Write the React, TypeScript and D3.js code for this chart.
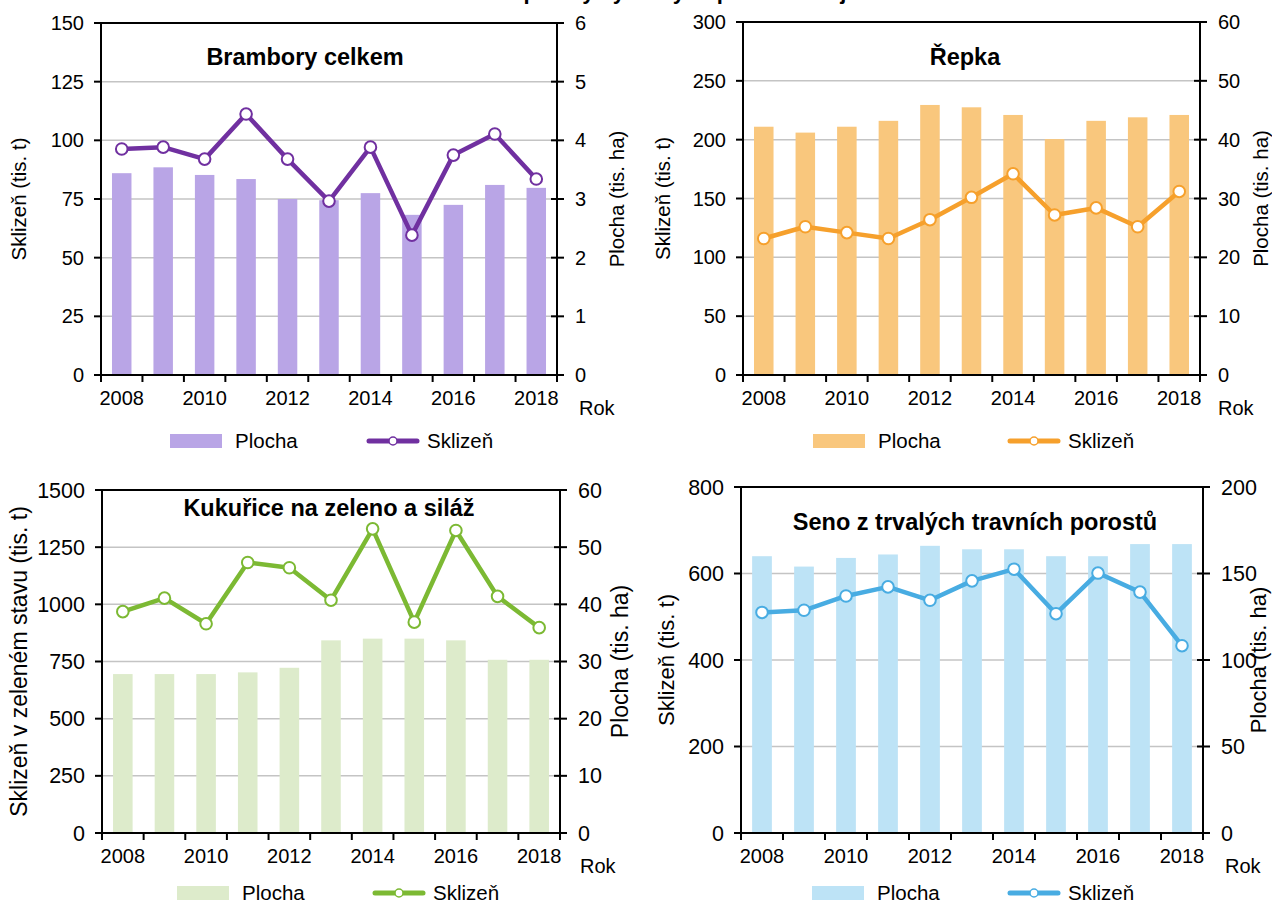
import React from "react";
import * as d3 from "d3";

const years = ["2008", "2009", "2010", "2011", "2012", "2013", "2014", "2015", "2016", "2017", "2018"];
const yearLabels = ["2008", "2010", "2012", "2014", "2016", "2018"];

// Plocha (tis. ha) - right axis, Sklizeň (tis. t) - left axis
const bramboryPlocha = [3.44, 3.54, 3.41, 3.34, 3.0, 2.98, 3.1, 2.73, 2.9, 3.24, 3.19];
const bramborySklizen = [96.3, 97.1, 92, 111.2, 92, 74.1, 97.1, 59.6, 93.7, 102.7, 83.5];

const repkaPlocha = [42.2, 41.2, 42.2, 43.2, 45.9, 45.5, 44.2, 40.1, 43.2, 43.8, 44.2];
const repkaSklizen = [116, 126, 121, 116, 132, 151, 171, 136, 142, 126, 156];

const kukuricePlocha = [27.8, 27.8, 27.8, 28.1, 28.9, 33.7, 34.0, 34.0, 33.7, 30.3, 30.3];
const kukuriceSklizen = [968, 1027, 915, 1183, 1160, 1018, 1330, 922, 1323, 1035, 898];

const senoPlocha = [160, 154, 159, 161, 166, 164, 164, 160, 160, 167, 167];
const senoSklizen = [510, 515, 548, 569, 538, 583, 610, 507, 601, 557, 433];

const FONT = "'Liberation Sans', Arial, sans-serif";

interface PanelCfg {
  title: string;
  titleX: number;
  titleY: number;
  left: number;
  right: number;
  top: number;
  bottom: number;
  leftMax: number;
  leftStep: number;
  rightMax: number;
  rightStep: number;
  leftTitle: string;
  leftTitleX: number;
  rightTitleX: number;
  plocha: number[];
  sklizen: number[];
  barColor: string;
  lineColor: string;
  rokX: number;
  legendY: number;
  swatchX: number;
  lineX: number;
  tickFs: number;
  axisFs: number;
}

const panels: PanelCfg[] = [
  {
    title: "Brambory celkem", titleX: 305, titleY: 57,
    left: 101, right: 557, top: 23, bottom: 375,
    leftMax: 150, leftStep: 25, rightMax: 6, rightStep: 1,
    leftTitle: "Sklizeň (tis. t)", leftTitleX: 19, rightTitleX: 617,
    plocha: bramboryPlocha, sklizen: bramborySklizen,
    barColor: "#b9a5e6", lineColor: "#7030a0",
    rokX: 579, legendY: 441, swatchX: 170, lineX: 369,
    tickFs: 20, axisFs: 20.5,
  },
  {
    title: "Řepka", titleX: 965, titleY: 57,
    left: 743, right: 1200, top: 22, bottom: 375,
    leftMax: 300, leftStep: 50, rightMax: 60, rightStep: 10,
    leftTitle: "Sklizeň (tis. t)", leftTitleX: 663, rightTitleX: 1261,
    plocha: repkaPlocha, sklizen: repkaSklizen,
    barColor: "#f9c77d", lineColor: "#f6a02c",
    rokX: 1218, legendY: 441, swatchX: 813, lineX: 1010,
    tickFs: 20, axisFs: 20.5,
  },
  {
    title: "Kukuřice na zeleno a siláž", titleX: 329, titleY: 508,
    left: 102, right: 560, top: 490, bottom: 833,
    leftMax: 1500, leftStep: 250, rightMax: 60, rightStep: 10,
    leftTitle: "Sklizeň v zeleném stavu (tis. t)", leftTitleX: 19, rightTitleX: 620,
    plocha: kukuricePlocha, sklizen: kukuriceSklizen,
    barColor: "#ddebcb", lineColor: "#7cb933",
    rokX: 580, legendY: 893, swatchX: 177, lineX: 375,
    tickFs: 21.5, axisFs: 23,
  },
  {
    title: "Seno z trvalých travních porostů", titleX: 975, titleY: 522,
    left: 741, right: 1203, top: 487, bottom: 833,
    leftMax: 800, leftStep: 200, rightMax: 200, rightStep: 50,
    leftTitle: "Sklizeň (tis. t)", leftTitleX: 666, rightTitleX: 1258,
    plocha: senoPlocha, sklizen: senoSklizen,
    barColor: "#bde3f6", lineColor: "#48ace2",
    rokX: 1225, legendY: 893, swatchX: 812, lineX: 1010,
    tickFs: 21.5, axisFs: 22,
  },
];

function Panel({ c }: { c: PanelCfg }) {
  const x = d3.scaleBand().domain(years).range([c.left, c.right]);
  const yL = d3.scaleLinear().domain([0, c.leftMax]).range([c.bottom, c.top]);
  const yR = d3.scaleLinear().domain([0, c.rightMax]).range([c.bottom, c.top]);
  const leftTicks = d3.range(0, c.leftMax + 0.001, c.leftStep);
  const rightTicks = d3.range(0, c.rightMax + 0.001, c.rightStep);
  const bw = x.bandwidth();
  const barW = bw * 0.47;
  const cx = (i: number) => (x(years[i]) as number) + bw / 2;
  const line = d3.line<number>().x((d, i) => cx(i)).y((d) => yL(d));
  const midY = (c.top + c.bottom) / 2;

  return (
    <g>
      {/* grid */}
      {leftTicks.filter((t) => t > 0 && t < c.leftMax).map((t) => (
        <line key={"g" + t} x1={c.left} x2={c.right} y1={yL(t)} y2={yL(t)} stroke="#c4c4c4" strokeWidth={1.5} />
      ))}
      {/* bars */}
      {c.plocha.map((v, i) => (
        <rect key={"b" + i} x={cx(i) - barW / 2} y={yR(v)} width={barW} height={c.bottom - yR(v)} fill={c.barColor} />
      ))}
      {/* frame */}
      <line x1={c.left} x2={c.right} y1={c.top} y2={c.top} stroke="#000" strokeWidth={2} />
      <line x1={c.left} x2={c.left} y1={c.top} y2={c.bottom} stroke="#000" strokeWidth={2} />
      <line x1={c.right} x2={c.right} y1={c.top} y2={c.bottom} stroke="#000" strokeWidth={2} />
      <line x1={c.left - 1} x2={c.right + 1} y1={c.bottom} y2={c.bottom} stroke="#000" strokeWidth={2} />
      {/* left ticks */}
      {leftTicks.map((t) => (
        <g key={"l" + t}>
          <line x1={c.left - 7} x2={c.left} y1={yL(t)} y2={yL(t)} stroke="#000" strokeWidth={2} />
          <text x={c.left - 17} y={yL(t)} dy="0.35em" textAnchor="end" fontSize={c.tickFs} fontFamily={FONT}>{t}</text>
        </g>
      ))}
      {/* right ticks */}
      {rightTicks.map((t) => (
        <g key={"r" + t}>
          <line x1={c.right - 6} x2={c.right + 7} y1={yR(t)} y2={yR(t)} stroke="#000" strokeWidth={2} />
          <text x={c.right + 18} y={yR(t)} dy="0.35em" textAnchor="start" fontSize={c.tickFs} fontFamily={FONT}>{t}</text>
        </g>
      ))}
      {/* x ticks at category boundaries */}
      {d3.range(0, years.length + 1).map((i) => {
        const xx = c.left + i * bw;
        return <line key={"x" + i} x1={xx} x2={xx} y1={c.bottom} y2={c.bottom + 7} stroke="#000" strokeWidth={2} />;
      })}
      {yearLabels.map((y) => (
        <text key={"xl" + y} x={(x(y) as number) + bw / 2} y={c.bottom + 23} dy="0.35em" textAnchor="middle" fontSize={20} fontFamily={FONT}>{y}</text>
      ))}
      <text x={c.rokX} y={c.bottom + 33} dy="0.35em" fontSize={20} fontFamily={FONT}>Rok</text>
      {/* axis titles */}
      <text transform={`translate(${c.leftTitleX},${midY}) rotate(-90)`} textAnchor="middle" dy="0.35em" fontSize={c.axisFs} fontFamily={FONT}>{c.leftTitle}</text>
      <text transform={`translate(${c.rightTitleX},${midY}) rotate(-90)`} textAnchor="middle" dy="0.35em" fontSize={c.axisFs} fontFamily={FONT}>Plocha (tis. ha)</text>
      {/* chart title */}
      <text x={c.titleX} y={c.titleY} dy="0.35em" textAnchor="middle" fontSize={23.5} fontWeight="bold" fontFamily={FONT}>{c.title}</text>
      {/* line */}
      <path d={line(c.sklizen) || ""} fill="none" stroke={c.lineColor} strokeWidth={4.5} strokeLinejoin="round" />
      {c.sklizen.map((v, i) => (
        <circle key={"m" + i} cx={cx(i)} cy={yL(v)} r={5.8} fill="#fff" stroke={c.lineColor} strokeWidth={2} />
      ))}
      {/* legend */}
      <rect x={c.swatchX} y={c.legendY - 7} width={52} height={14} fill={c.barColor} />
      <text x={c.swatchX + 65} y={c.legendY} dy="0.35em" fontSize={20.5} fontFamily={FONT}>Plocha</text>
      <line x1={c.lineX} x2={c.lineX + 48} y1={c.legendY} y2={c.legendY} stroke={c.lineColor} strokeWidth={5} strokeLinecap="round" />
      <circle cx={c.lineX + 24} cy={c.legendY} r={4} fill="#fff" stroke={c.lineColor} strokeWidth={1.5} />
      <text x={c.lineX + 58} y={c.legendY} dy="0.35em" fontSize={20.5} fontFamily={FONT}>Sklizeň</text>
    </g>
  );
}

export default function App() {
  return (
    <svg width={1272} height={903} style={{ position: "absolute", left: 0, top: 0, background: "#fff" }}>
      <rect width={1272} height={903} fill="#fff" />
      <text x={600} y={-1} textAnchor="middle" fontSize={22} fontWeight="bold" fontFamily={FONT}>
        Sklizeň a osevní plochy vybraných plodin v kraji
      </text>
      {panels.map((p) => (
        <Panel key={p.title} c={p} />
      ))}
    </svg>
  );
}
